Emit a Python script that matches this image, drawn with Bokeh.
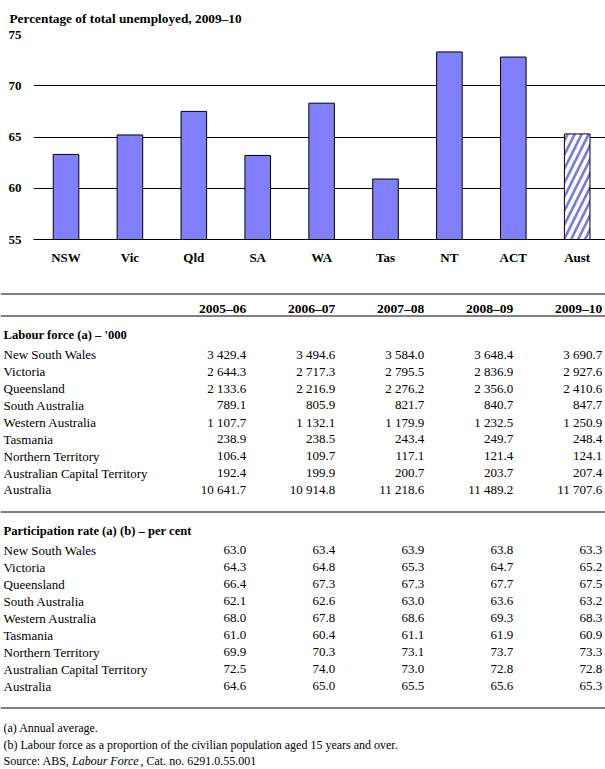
from bokeh.plotting import figure
from bokeh.layouts import column
from bokeh.models import Range1d, FixedTicker, ColumnDataSource, Title
from bokeh.core.properties import value
from bokeh.embed import file_html
from bokeh.resources import INLINE

# ---------------- data ----------------
chart_title = "Percentage of total unemployed, 2009\u201310"
categories = ["NSW", "Vic", "Qld", "SA", "WA", "Tas", "NT", "ACT", "Aust"]
chart_values = [63.3, 65.2, 67.5, 63.2, 68.3, 60.9, 73.3, 72.8, 65.3]
y_ticks = [55, 60, 65, 70, 75]

regions = ["New South Wales", "Victoria", "Queensland", "South Australia",
           "Western Australia", "Tasmania", "Northern Territory",
           "Australian Capital Territory", "Australia"]
years = ["2005\u201306", "2006\u201307", "2007\u201308", "2008\u201309", "2009\u201310"]

labour_2005_06 = [3429.4, 2644.3, 2133.6, 789.1, 1107.7, 238.9, 106.4, 192.4, 10641.7]
labour_2006_07 = [3494.6, 2717.3, 2216.9, 805.9, 1132.1, 238.5, 109.7, 199.9, 10914.8]
labour_2007_08 = [3584.0, 2795.5, 2276.2, 821.7, 1179.9, 243.4, 117.1, 200.7, 11218.6]
labour_2008_09 = [3648.4, 2836.9, 2356.0, 840.7, 1232.5, 249.7, 121.4, 203.7, 11489.2]
labour_2009_10 = [3690.7, 2927.6, 2410.6, 847.7, 1250.9, 248.4, 124.1, 207.4, 11707.6]

part_2005_06 = [63.0, 64.3, 66.4, 62.1, 68.0, 61.0, 69.9, 72.5, 64.6]
part_2006_07 = [63.4, 64.8, 67.3, 62.6, 67.8, 60.4, 70.3, 74.0, 65.0]
part_2007_08 = [63.9, 65.3, 67.3, 63.0, 68.6, 61.1, 73.1, 73.0, 65.5]
part_2008_09 = [63.8, 64.7, 67.7, 63.6, 69.3, 61.9, 73.7, 72.8, 65.6]
part_2009_10 = [63.3, 65.2, 67.5, 63.2, 68.3, 60.9, 73.3, 72.8, 65.3]

section_labour = "Labour force (a) \u2013 '000"
section_part = "Participation rate (a) (b) \u2013 per cent"
note_a = "(a) Annual average."
note_b = "(b) Labour force as a proportion of the civilian population aged 15 years and over."
source_pre = "Source: ABS,"
source_ital = "Labour Force"
source_post = ", Cat. no. 6291.0.55.001"

# ---------------- style / layout ----------------
SERIF = "Liberation Serif"
BAR = "#8080FF"
W = 605
HC = 283
HT = 769 - HC

# ---------------- chart ----------------
n = len(categories)
p = figure(width=W, height=HC, output_backend="svg", toolbar_location=None,
           x_range=Range1d(-0.509, 8.443), y_range=Range1d(55, 75),
           min_border_left=33, min_border_right=0, min_border_top=32,
           min_border_bottom=44)
p.title = Title(text=chart_title, align="left", offset=-24, standoff=17,
                vertical_align="bottom", text_font=SERIF, text_font_size="13.3px",
                text_font_style="bold", text_color="black")
p.outline_line_color = None
p.background_fill_color = "white"
p.border_fill_color = "white"

p.yaxis.ticker = FixedTicker(ticks=y_ticks)
p.ygrid.ticker = FixedTicker(ticks=y_ticks)
p.ygrid.grid_line_color = "black"
p.ygrid.grid_line_width = 1
p.xgrid.grid_line_color = None
p.yaxis.axis_line_color = None
p.yaxis.major_tick_line_color = None
p.yaxis.minor_tick_line_color = None
p.yaxis.major_label_standoff = 6
for ax in (p.xaxis, p.yaxis):
    ax.major_label_text_font = SERIF
    ax.major_label_text_font_size = "13px"
    ax.major_label_text_font_style = "bold"
    ax.major_label_text_color = "black"

p.xaxis.ticker = FixedTicker(ticks=list(range(n)))
p.xaxis.major_label_overrides = {i: c for i, c in enumerate(categories)}
p.xaxis.axis_line_color = "black"
p.xaxis.major_tick_line_color = None
p.xaxis.minor_tick_line_color = None
p.xaxis.major_label_standoff = 4

src_main = ColumnDataSource(dict(x=list(range(n - 1)), top=chart_values[:-1]))
p.vbar(x="x", top="top", bottom=55, width=0.4, source=src_main,
       fill_color=BAR, line_color="black", line_width=1)
src_aus = ColumnDataSource(dict(x=[n - 1], top=chart_values[-1:]))
p.vbar(x="x", top="top", bottom=55, width=0.4, source=src_aus,
       fill_color="white", hatch_pattern="/", hatch_color="#7878E6",
       hatch_weight=2.6, hatch_scale=14, line_color="black", line_width=1)

# ---------------- table ----------------
t = figure(width=W, height=HT, output_backend="svg", toolbar_location=None,
           x_range=Range1d(0, W), y_range=Range1d(HT, 0),
           min_border=0, x_axis_location=None, y_axis_location=None)
t.outline_line_color = None
t.grid.grid_line_color = None
t.background_fill_color = "white"
t.border_fill_color = "white"

col_right = [245.7, 334.7, 423.7, 512.7, 601.7]
label_x = 3
y_top_line = 10.5
y_header = 24.5
y_header_line = 32.5
y_sec1 = 51.0
y_rows1 = 70.8
step1 = 16.96
y_line2 = 228.5
y_sec2 = 247.5
y_rows2 = 266.7
step2 = 16.98
y_line3 = 424.5
y_note_a = 444.5
y_note_b = 461.2
y_source = 477.0

# rules
t.segment(x0=[0, 0, 0, 0], x1=[W, W, W, W],
          y0=[y_top_line, y_header_line, y_line2, y_line3],
          y1=[y_top_line, y_header_line, y_line2, y_line3],
          line_color="black", line_width=1)

def txt(xs, ys, texts, align="left", size="13px", style="normal"):
    s = ColumnDataSource(dict(x=xs, y=ys, text=texts))
    t.text(x="x", y="y", text="text", source=s, text_align=align,
           text_baseline="middle", text_font=value(SERIF),
           text_font_size=size, text_font_style=style, text_color="black")

# header
txt(col_right, [y_header] * len(years), years, align="right", size="13.5px", style="bold")
txt([label_x, label_x], [y_sec1, y_sec2], [section_labour, section_part], size="12.6px", style="bold")

# row labels
rows1_y = [y_rows1 + i * step1 for i in range(len(regions))]
rows2_y = [y_rows2 + i * step2 for i in range(len(regions))]
txt([label_x] * len(regions), rows1_y, regions)
txt([label_x] * len(regions), rows2_y, regions)

def fmt_thousands(v):
    return f"{v:,.1f}".replace(",", " ")

labour_cols = [labour_2005_06, labour_2006_07, labour_2007_08, labour_2008_09, labour_2009_10]
part_cols = [part_2005_06, part_2006_07, part_2007_08, part_2008_09, part_2009_10]
xs, ys, ts = [], [], []
for ci, col in enumerate(labour_cols):
    for ri, v in enumerate(col):
        xs.append(col_right[ci]); ys.append(rows1_y[ri]); ts.append(fmt_thousands(v))
for ci, col in enumerate(part_cols):
    for ri, v in enumerate(col):
        xs.append(col_right[ci]); ys.append(rows2_y[ri]); ts.append(f"{v:.1f}")
txt(xs, ys, ts, align="right")

# footnotes
txt([label_x, label_x, label_x], [y_note_a, y_note_b, y_source],
    [note_a, note_b, source_pre], size="12px")
txt([71.5], [y_source], [source_ital], size="12px", style="italic")
txt([140], [y_source], [source_post], size="12px")

layout = column(p, column(t), spacing=0)
open("out.html", "w").write(file_html(layout, INLINE))
